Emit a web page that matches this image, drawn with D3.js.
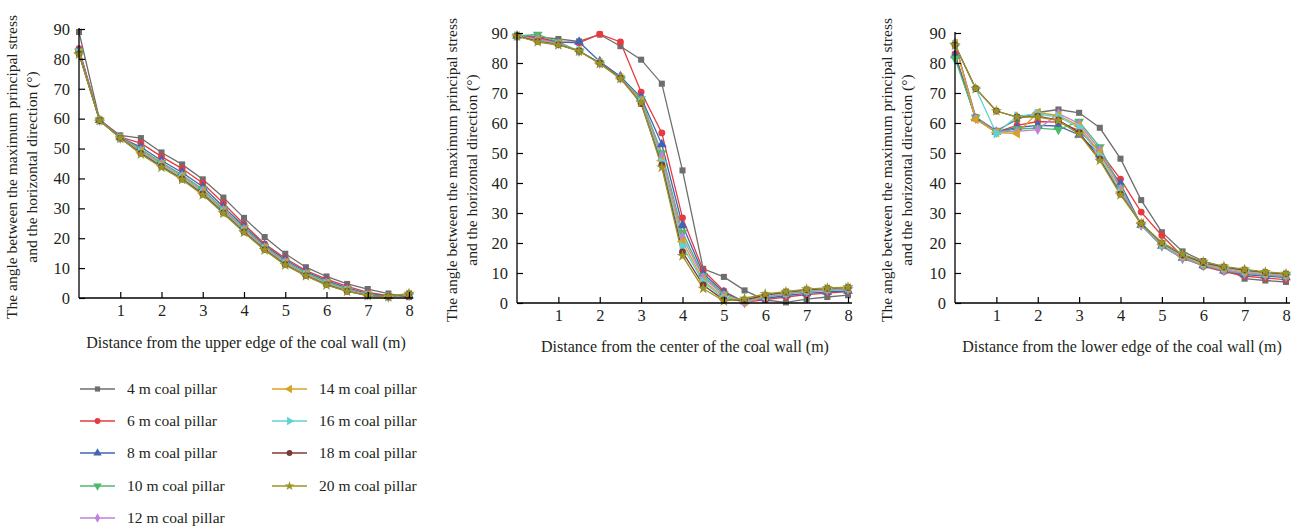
<!DOCTYPE html>
<html><head><meta charset="utf-8">
<script src="https://cdn.jsdelivr.net/npm/d3@7"></script>
<style>body{margin:0;background:#fff}svg{display:block}</style>
</head><body>
<script>
const xValues = [0,0.5,1,1.5,2,2.5,3,3.5,4,4.5,5,5.5,6,6.5,7,7.5,8];
const xTickLabels = [1,2,3,4,5,6,7,8];
const yTickLabels = [0,10,20,30,40,50,60,70,80,90];
const seriesNames = ["4 m coal pillar","6 m coal pillar","8 m coal pillar","10 m coal pillar","12 m coal pillar","14 m coal pillar","16 m coal pillar","18 m coal pillar","20 m coal pillar"];
const seriesColors = ["#6e6e6e","#e83a3e","#4065b4","#4cba6a","#c180dc","#d6a223","#62d1d6","#7c3a36","#9a9428"];
const seriesMarkers = ["square","circle","triUp","triDown","diamond","triLeft","triRight","circle","star"];

// Panel 1: upper edge
const upper = [
 [89,59.6,54.4,53.5,48.7,44.7,39.7,33.6,26.8,20.4,14.8,10.3,7.2,4.7,3.0,1.5,0.3],
 [83.4,59.6,53.8,51.8,47.3,43.3,38.4,31.7,24.7,18.1,13.3,9.2,6.3,3.9,1.9,0.8,0.5],
 [82.8,59.5,53.7,50.5,46.0,42.0,37.2,30.5,24.0,17.6,12.8,8.8,5.8,3.4,1.5,0.6,0.8],
 [82.5,59.5,53.6,49.8,45.3,41.2,36.4,29.8,23.4,17.2,12.3,8.4,5.4,3.0,1.2,0.4,1.0],
 [82.3,59.5,53.6,49.3,44.9,40.8,35.8,29.4,23.0,16.9,12.0,8.1,5.1,2.8,1.1,0.3,1.1],
 [82.0,59.4,53.5,49.0,44.5,40.4,35.4,29.0,22.6,16.6,11.7,7.9,4.9,2.6,1.0,0.4,1.2],
 [81.9,59.4,53.5,48.7,44.3,40.1,35.1,28.8,22.4,16.4,11.5,7.7,4.7,2.5,0.9,0.4,1.3],
 [81.7,59.4,53.5,48.4,44.0,39.8,34.8,28.5,22.1,16.2,11.2,7.5,4.5,2.3,0.8,0.5,1.4],
 [81.5,59.4,53.5,48.1,43.7,39.6,34.5,28.3,21.9,16.0,11.0,7.4,4.3,2.2,0.8,0.5,1.5]
];
// Panel 2: center
const center = [
 [89.3,88.7,88.0,87.2,89.5,85.6,81.1,73.1,44.2,11.4,8.7,4.2,1.0,0.2,1.3,2.0,2.6],
 [89.0,88.5,87.0,86.7,89.6,87.0,70.3,56.7,28.4,10.9,4.0,0.2,1.1,2.0,2.8,3.3,3.8],
 [89.0,88.0,86.8,87.0,80.5,75.5,68.5,52.9,25.9,9.8,3.5,0.5,1.5,2.5,3.2,3.7,4.0],
 [89.0,89.5,87.0,84.0,80.0,75.0,68.0,50.0,23.5,9.0,3.0,0.5,2.0,3.0,3.8,4.2,4.5],
 [89.0,88.0,86.5,84.0,80.0,75.0,67.5,49.0,22.0,8.5,2.5,0.0,2.0,3.2,4.0,4.5,4.8],
 [89.0,87.5,86.3,84.0,80.0,75.0,67.3,47.5,20.5,7.5,2.0,0.5,2.2,3.5,4.2,4.7,5.0],
 [89.0,87.3,86.2,84.0,80.0,75.0,67.0,47.0,19.0,7.0,1.5,0.8,2.4,3.5,4.3,4.8,5.1],
 [89.0,87.2,86.1,84.0,80.0,75.0,66.5,46.0,17.0,6.0,1.0,1.0,2.6,3.6,4.4,4.9,5.2],
 [89.0,87.0,86.0,84.0,79.8,74.8,66.8,45.2,15.7,4.8,0.6,1.5,3.0,3.8,4.6,5.0,5.3]
];
// Panel 3: lower edge
const lower = [
 [86.5,62.0,57.4,61.2,63.5,64.5,63.4,58.4,48.1,34.3,23.6,17.2,14.0,12.0,8.1,7.5,7.0],
 [83.0,61.5,57.0,59.2,60.5,60.3,57.5,50.5,41.3,30.3,22.5,15.5,12.2,10.5,9.0,8.3,7.8],
 [82.5,61.5,57.0,58.5,59.2,59.0,56.0,49.5,39.8,26.0,19.0,15.0,12.5,10.8,9.5,9.0,8.5],
 [81.5,61.8,57.0,58.0,58.3,57.8,60.5,52.0,38.5,26.0,19.0,14.8,12.5,10.8,9.8,9.3,8.8],
 [86.8,61.5,57.0,57.2,57.8,63.2,59.8,51.0,38.0,26.0,19.2,15.0,12.8,11.0,10.0,9.5,9.0],
 [86.5,61.2,56.8,56.5,63.5,62.5,59.0,50.0,37.0,26.5,19.5,15.5,13.0,11.5,10.5,9.8,9.3],
 [86.0,71.5,56.5,62.3,63.0,62.0,58.5,49.0,36.8,26.3,19.5,15.8,13.2,11.7,10.7,10.0,9.5],
 [86.0,71.5,64.0,62.0,62.3,61.0,56.8,48.0,36.3,26.5,20.0,16.0,13.5,12.0,11.0,10.2,9.7],
 [86.0,71.5,64.0,62.0,62.0,60.8,56.3,47.5,36.0,26.5,20.2,16.3,13.8,12.2,11.2,10.4,9.8]
];
const xTitles = ["Distance from the upper edge of the coal wall (m)","Distance from the center of the coal wall (m)","Distance from the lower edge of the coal wall (m)"];
const yTitle1 = "The angle between the maximum principal stress";
const yTitle2 = "and the horizontal direction (°)";

const W = 1300, H = 528;
const FONT = "'Liberation Serif', 'DejaVu Serif', serif";
const TXT = "#231f20";
const svg = d3.select("body").append("svg").attr("width", W).attr("height", H)
  .style("font-family", FONT);

const panels = [
  {data: upper, x0: 79, x1: 409, y0: 298, y1: 29, title: xTitles[0], tx: 246, ty: 348, yt: [12, 32], ytc: 167},
  {data: center, x0: 517, x1: 848, y0: 303, y1: 33, title: xTitles[1], tx: 685, ty: 352, yt: [452, 472], ytc: 170},
  {data: lower, x0: 955, x1: 1286, y0: 303, y1: 33, title: xTitles[2], tx: 1122, ty: 352, yt: [887, 907], ytc: 170}
];

function markerPath(kind, s) {
  const sym = (t, a) => d3.symbol().type(t).size(a)();
  switch (kind) {
    case "square": return sym(d3.symbolSquare, s*s*0.75);
    case "circle": return sym(d3.symbolCircle, s*s*0.75);
    case "triUp": case "triDown": case "triLeft": case "triRight":
      return sym(d3.symbolTriangle, s*s*0.85);
    case "diamond": return sym(d3.symbolDiamond, s*s*0.7);
    case "star": return sym(d3.symbolStar, s*s*0.8);
  }
}
function markerRot(kind) {
  return {triDown: 180, triLeft: -90, triRight: 90}[kind] || 0;
}

panels.forEach(p => {
  const x = d3.scaleLinear().domain([0, 8]).range([p.x0, p.x1]);
  const y = d3.scaleLinear().domain([0, 90]).range([p.y0, p.y1]);
  const g = svg.append("g");

  const line = d3.line().x((d, i) => x(xValues[i])).y(d => y(d));
  p.data.forEach((vals, si) => {
    g.append("path").attr("d", line(vals)).attr("fill", "none")
      .attr("stroke", seriesColors[si]).attr("stroke-width", 1.3);
  });
  p.data.forEach((vals, si) => {
    const m = seriesMarkers[si];
    g.selectAll(null).data(vals).enter().append("path")
      .attr("d", markerPath(m, 7))
      .attr("transform", (d, i) => `translate(${x(xValues[i])},${y(d)}) rotate(${markerRot(m)})`)
      .attr("fill", seriesColors[si]);
  });

  const xAxis = d3.axisBottom(x).tickValues(xTickLabels).tickSizeInner(-6).tickSizeOuter(0).tickPadding(6);
  const gx = svg.append("g").attr("transform", `translate(0,${p.y0})`).call(xAxis);
  gx.select(".domain").attr("d", `M${p.x0},0H${p.x1 + 4}`).attr("stroke", "#000").attr("stroke-width", 1.3);
  gx.selectAll(".tick line").attr("stroke", "#000").attr("stroke-width", 1.2);
  gx.selectAll("text").attr("font-family", FONT).attr("font-size", 16.5).attr("fill", TXT);

  const yAxis = d3.axisLeft(y).tickValues(yTickLabels).tickSizeInner(-6).tickSizeOuter(0).tickPadding(9);
  const gy = svg.append("g").attr("transform", `translate(${p.x0},0)`).call(yAxis);
  gy.select(".domain").attr("d", `M0,${p.y0}V${p.y1 - 1}`).attr("stroke", "#000").attr("stroke-width", 1.3);
  gy.selectAll(".tick line").attr("stroke", "#000").attr("stroke-width", 1.2);
  gy.selectAll("text").attr("font-family", FONT).attr("font-size", 16.5).attr("fill", TXT);

  svg.append("text").attr("x", p.tx).attr("y", p.ty).attr("text-anchor", "middle")
    .attr("font-size", 16).attr("fill", TXT).text(p.title);
  [yTitle1, yTitle2].forEach((t, k) => {
    svg.append("text").attr("transform", `translate(${p.yt[k] + 5},${p.ytc}) rotate(-90)`)
      .attr("text-anchor", "middle").attr("font-size", 15.5).attr("fill", TXT).text(t);
  });
});

// legend
const legendPos = [
  [80,389],[80,421],[80,453],[80,486],[80,518],
  [272,389],[272,421],[272,453],[272,486]
];
const lg = svg.append("g");
seriesNames.forEach((name, i) => {
  const [lx, ly] = legendPos[i];
  lg.append("line").attr("x1", lx).attr("x2", lx + 35).attr("y1", ly).attr("y2", ly)
    .attr("stroke", seriesColors[i]).attr("stroke-width", 1.3);
  lg.append("path").attr("d", markerPath(seriesMarkers[i], 6))
    .attr("transform", `translate(${lx + 17.5},${ly}) rotate(${markerRot(seriesMarkers[i])})`)
    .attr("fill", seriesColors[i]);
  lg.append("text").attr("x", lx + 47).attr("y", ly + 5).attr("font-size", 15.5)
    .attr("fill", TXT).text(name);
});
</script>
</body></html>
